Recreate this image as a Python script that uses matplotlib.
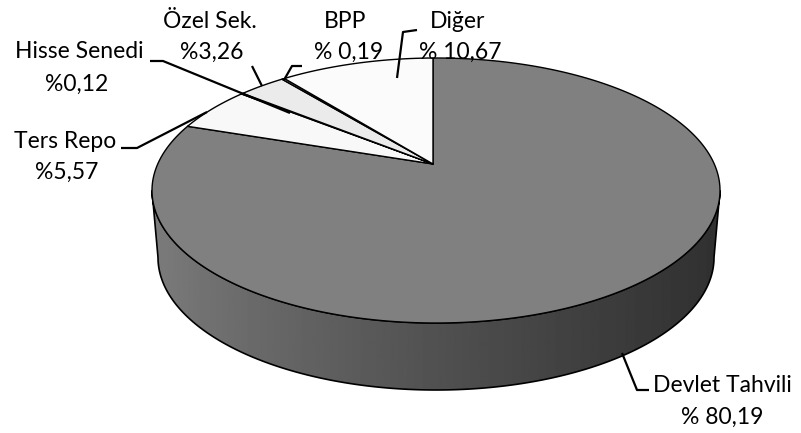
import numpy as np
import matplotlib
matplotlib.use("Agg")
import matplotlib.pyplot as plt
from matplotlib.patches import Polygon

# Portfolio composition (percent)
categories = ["Devlet Tahvili", "Ters Repo", "Hisse Senedi", "Özel Sek.", "BPP", "Diğer"]
shares = [80.19, 5.57, 0.12, 3.26, 0.19, 10.67]
value_labels = ["% 80,19", "%5,57", "%0,12", "%3,26", "% 0,19", "% 10,67"]

top_colors = ["#808080", "#f8f8f8", "#bcbcbc", "#ebebeb", "#9a9a9a", "#fbfbfb"]

W, H = 801, 433
fig = plt.figure(figsize=(W / 100, H / 100), dpi=100)
ax = fig.add_axes([0, 0, 1, 1])
ax.set_xlim(0, W)
ax.set_ylim(H, 0)
ax.axis("off")

# 3-D pie geometry (pixel space)
CX, CY = 436.0, 190.5          # centre of the projected top ellipse
RX, RY = 284.0, 132.5          # its semi-axes
DEPTH = 67.0                   # thickness of the disc
RX_BOTTOM = 278.0              # bottom rim slightly narrower (perspective)
APEX = (433.0, 164.0)          # projected centre of the disc

beta = np.array([(APEX[0] - CX) / RX, (CY - APEX[1]) / RY])


def perspective(u, v):
    """Projective map of the unit disc sending its centre to `beta`."""
    bx, by = beta
    b2 = bx * bx + by * by
    g = 1.0 / np.sqrt(1.0 - b2)
    br = bx * u + by * v
    k = (g - 1.0) / b2
    x = u + k * br * bx + g * bx
    y = v + k * br * by + g * by
    t = g * br + g
    return x / t, y / t


def to_px(u, v):
    return CX + RX * u, CY - RY * v


# angle on the disc whose image lies straight above the apex (12 o'clock)
cand = np.linspace(np.pi / 4, 3 * np.pi / 4, 20001)
xu, yu = perspective(np.cos(cand), np.sin(cand))
phi0 = cand[np.argmin(np.abs(xu - beta[0]))]

# ---- side wall (front half), shaded left-to-right ----
t = np.linspace(np.pi, 2 * np.pi, 400)
top_front = np.column_stack([CX + RX * np.cos(t), CY - RY * np.sin(t)])
bot_front = np.column_stack([CX + RX_BOTTOM * np.cos(t[::-1]),
                             CY + DEPTH - RY * np.sin(t[::-1])])
side_pts = np.vstack([top_front, bot_front])
side = Polygon(side_pts, closed=True, facecolor="none", edgecolor="black",
               lw=1.2, zorder=3)
ax.add_patch(side)
grad_x = np.linspace(0, 1, 512)
shade = 0.49 - 0.30 * grad_x ** 0.8
img = np.tile(shade, (2, 1))
im = ax.imshow(img, cmap="gray", vmin=0, vmax=1, aspect="auto",
               extent=[CX - RX, CX + RX, CY + RY + DEPTH, CY], zorder=2,
               interpolation="bilinear")
im.set_clip_path(side)

# ---- top face slices ----
cum = np.concatenate([[0], np.cumsum(shares)])
for i, share in enumerate(shares):
    a0 = phi0 - 2 * np.pi * cum[i] / 100.0
    a1 = phi0 - 2 * np.pi * cum[i + 1] / 100.0
    n = max(4, int(abs(a1 - a0) * 200))
    ang = np.linspace(a0, a1, n)
    u, v = perspective(np.cos(ang), np.sin(ang))
    px, py = to_px(u, v)
    pts = np.vstack([[APEX], np.column_stack([px, py])])
    ax.add_patch(Polygon(pts, closed=True, facecolor=top_colors[i],
                         edgecolor="black", lw=1.0, joinstyle="round",
                         zorder=4))

# ---- labels with leader lines ----
font = dict(family="Lato", size=16.5, color="black", ha="center",
            va="center", zorder=6)
label_pos = {
    "Devlet Tahvili": ((722, 386), (722, 417)),
    "Ters Repo": ((65, 141), (67, 172)),
    "Hisse Senedi": ((79, 52), (77, 84)),
    "Özel Sek.": ((210, 21), (212, 52)),
    "BPP": ((345, 21), (349, 52)),
    "Diğer": ((458, 21), (460, 52)),
}
leaders = {
    "Devlet Tahvili": [(622, 353), (637, 390), (649, 390)],
    "Ters Repo": [(121, 148), (137, 148), (207, 112)],
    "Hisse Senedi": [(150, 61), (163, 61), (290, 113)],
    "Özel Sek.": [(252, 66), (262, 86)],
    "BPP": [(302, 66), (292, 66), (284, 80)],
    "Diğer": [(417, 30), (403, 32), (397, 78)],
}
for name, val in zip(categories, value_labels):
    (x1, y1), (x2, y2) = label_pos[name]
    ax.text(x1, y1, name, **font)
    ax.text(x2, y2, val, **font)
    xs, ys = zip(*leaders[name])
    ax.plot(xs, ys, color="black", lw=1.6, zorder=5, solid_capstyle="butt")

fig.savefig("out.png", dpi=100, facecolor="white")
